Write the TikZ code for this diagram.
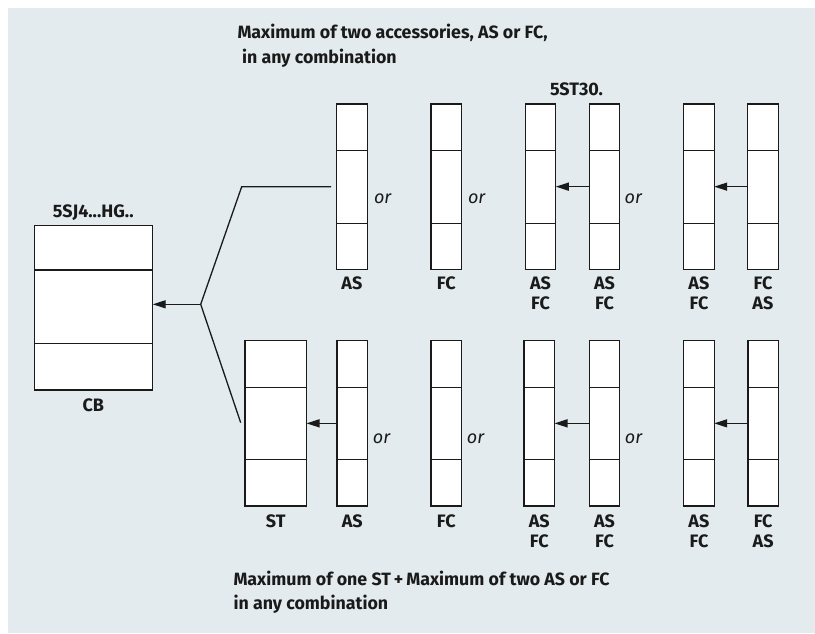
\documentclass[tikz,border=0pt]{standalone}
\usepackage{fontspec}
\setmainfont{Fira Sans}
\usetikzlibrary{arrows.meta,calc}
\definecolor{bg}{HTML}{E3EBEE}
\definecolor{ink}{HTML}{1A1A1A}
\begin{document}
\begin{tikzpicture}[x=1pt,y=-1pt,
  modbox/.style={draw=ink,fill=white,line width=1.3pt,minimum width=30.5pt,minimum height=165.3pt,anchor=north west,inner sep=0pt,outer sep=0pt},
  divline/.style={draw=ink,line width=1.2pt},
  arr/.style={draw=ink,line width=1.3pt,-{Triangle[length=13pt,width=8pt]}},
  conn/.style={draw=ink,line width=1.3pt},
  lab/.style={text=ink,font=\fontsize{18}{20}\selectfont\bfseries,align=center,inner sep=0pt,anchor=north},
  orlab/.style={text=ink,font=\fontsize{18}{20}\selectfont\itshape,inner sep=0pt,anchor=base},
  title/.style={text=ink,font=\fontsize{17.8}{24.5}\selectfont\bfseries,align=left,inner sep=0pt,anchor=north west},
  head/.style={text=ink,font=\fontsize{18}{20}\selectfont\bfseries,inner sep=0pt,anchor=base}]
\useasboundingbox (0,0) rectangle (815,633);
\fill[bg] (8,8) rectangle (815,633);

% titles
\node[title] (t1) at (237.3,24) {Maximum of two accessories, AS or FC,\\\hspace*{4.5pt}in any combination};
\node[title] (t2) at (233.3,570.7) {Maximum of one ST\,+\,Maximum of two AS or FC\\in any combination};

% circuit breaker
\node[modbox,minimum width=118.4pt,minimum height=164.3pt] (cb) at (34.3,225.7) {};
\draw[divline] ($(cb.north west)!0.27!(cb.south west)$) -- ($(cb.north east)!0.27!(cb.south east)$);
\draw[divline] ($(cb.north west)!0.716!(cb.south west)$) -- ($(cb.north east)!0.716!(cb.south east)$);
\node[head] (cbtop) at (93.3,217.3) {5SJ4...HG..};
\node[head] (cblab) at (93.3,411) {CB};

% top row
\node[modbox] (a1) at (336.7,104) {};
\node[modbox] (a2) at (431,104) {};
\node[modbox] (a3) at (525.3,104) {};
\node[modbox] (a4) at (589.3,104) {};
\node[modbox] (a5) at (683.7,104) {};
\node[modbox] (a6) at (747.7,104) {};
% bottom row
\node[modbox,minimum width=61.5pt] (st) at (245,340.7) {};
\node[modbox] (b1) at (337,340.7) {};
\node[modbox] (b2) at (431,340.7) {};
\node[modbox] (b3) at (524,340.7) {};
\node[modbox] (b4) at (589.3,340.7) {};
\node[modbox] (b5) at (683.7,340.7) {};
\node[modbox] (b6) at (747.9,340.7) {};

\foreach \n in {a1,a2,a3,a4,a5,a6,st,b1,b2,b3,b4,b5,b6}{
  \draw[divline] ($(\n.north west)!0.282!(\n.south west)$) -- ($(\n.north east)!0.282!(\n.south east)$);
  \draw[divline] ($(\n.north west)!0.721!(\n.south west)$) -- ($(\n.north east)!0.721!(\n.south east)$);
}

% arrows between modules
\draw[arr] (a4.west) -- (a3.east);
\draw[arr] (a6.west) -- (a5.east);
\draw[arr] (b1.west) -- (st.east);
\draw[arr] (b4.west) -- (b3.east);
\draw[arr] (b6.west) -- (b5.east);

% branch to circuit breaker
\coordinate (j) at (200.7,304.3);
\coordinate (k) at (241.7,186.7);
\draw[arr] (j) -- (j -| cb.east);
\draw[conn] (j) -- (k) -- ([xshift=-5.5pt]a1.west);
\draw[conn] (j) -- ([xshift=-4.3pt,yshift=0.7pt]st.west);

% or labels
\node[orlab] (o1) at (382.7,203.3) {or};
\node[orlab] (o2) at (476.7,203.3) {or};
\node[orlab] (o3) at (633.3,203.3) {or};
\node[orlab] (o4) at (381.5,443.3) {or};
\node[orlab] (o5) at (475.5,443.3) {or};
\node[orlab] (o6) at (633.5,443.3) {or};

% 5ST30 label
\node[head] (st30) at (576.5,95.7) {5ST30.};

% labels below
\node[lab] at ($(a1.south)+(0,7.5)$) {AS};
\node[lab] at ($(a2.south)+(0,7.5)$) {FC};
\node[lab] at ($(a3.south)+(0,7.5)$) {AS\\FC};
\node[lab] at ($(a4.south)+(0,7.5)$) {AS\\FC};
\node[lab] at ($(a5.south)+(0,7.5)$) {AS\\FC};
\node[lab] at ($(a6.south)+(0,7.5)$) {FC\\AS};
\node[lab] at ($(st.south)+(0,9)$) {ST};
\node[lab] at ($(b1.south)+(0,9)$) {AS};
\node[lab] at ($(b2.south)+(0,9)$) {FC};
\node[lab] at ($(b3.south)+(0,9)$) {AS\\FC};
\node[lab] at ($(b4.south)+(0,9)$) {AS\\FC};
\node[lab] at ($(b5.south)+(0,9)$) {AS\\FC};
\node[lab] at ($(b6.south)+(0,9)$) {FC\\AS};
\end{tikzpicture}
\end{document}
